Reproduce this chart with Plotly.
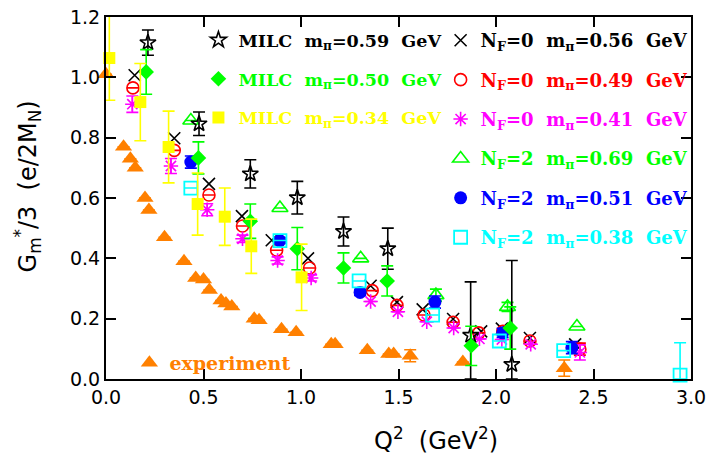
import plotly.graph_objects as go

# ---------------- data ----------------
exp_x = [0.00, 0.09, 0.125, 0.15, 0.20, 0.22, 0.30, 0.40, 0.46, 0.50, 0.53, 0.59, 0.615, 0.645,
         0.76, 0.785, 0.90, 0.975, 1.155, 1.175, 1.34, 1.45, 1.475, 1.56, 1.83, 2.35]
exp_y = [1.01, 0.77, 0.73, 0.70, 0.60, 0.56, 0.47, 0.39, 0.335, 0.33, 0.295, 0.26, 0.25, 0.24,
         0.20, 0.195, 0.165, 0.155, 0.115, 0.115, 0.095, 0.083, 0.083, 0.077, 0.056, 0.036]
exp_err = [0, 0, 0, 0, 0, 0, 0, 0, 0, 0, 0, 0, 0, 0,
           0, 0, 0, 0, 0, 0, 0, 0, 0, 0.02, 0, 0.027]

milc59_x = [0.215, 0.477, 0.740, 0.981, 1.218, 1.445, 1.870, 2.081]
milc59_y = [1.115, 0.846, 0.680, 0.601, 0.489, 0.432, 0.145, 0.048]
milc59_err = [0.042, 0.039, 0.047, 0.054, 0.048, 0.068, 0.177, 0.345]

milc50_x = [0.206, 0.474, 0.740, 0.981, 1.218, 1.442, 1.873, 2.073]
milc50_y = [1.018, 0.733, 0.523, 0.432, 0.368, 0.325, 0.110, 0.169]
milc50_err = [0.074, 0.053, 0.057, 0.070, 0.050, 0.050, 0.065, 0.070]

milc34_x = [0.017, 0.176, 0.321, 0.470, 0.609, 0.745, 1.003]
milc34_y = [1.064, 0.918, 0.769, 0.580, 0.538, 0.440, 0.337]
milc34_err = [0.140, 0.128, 0.119, 0.103, 0.095, 0.090, 0.110]

q56_x = [0.147, 0.350, 0.528, 0.697, 0.850, 1.036, 1.357, 1.492, 1.624, 1.780, 1.924, 2.030, 2.174, 2.406]
q56_y = [1.007, 0.798, 0.647, 0.540, 0.460, 0.400, 0.309, 0.255, 0.231, 0.199, 0.158, 0.167, 0.136, 0.115]

q49_x = [0.138, 0.350, 0.528, 0.700, 0.875, 1.044, 1.365, 1.492, 1.631, 1.780, 1.912, 2.035, 2.174, 2.430]
q49_y = [0.965, 0.758, 0.610, 0.507, 0.427, 0.368, 0.293, 0.244, 0.212, 0.188, 0.153, 0.158, 0.126, 0.099]
q49_err = [0, 0, 0, 0, 0, 0, 0, 0, 0, 0, 0, 0, 0, 0.02]

q41_x = [0.135, 0.333, 0.519, 0.700, 0.880, 1.052, 1.357, 1.497, 1.645, 1.783, 1.915, 2.030, 2.178, 2.430]
q41_y = [0.911, 0.706, 0.561, 0.465, 0.393, 0.335, 0.257, 0.223, 0.190, 0.169, 0.133, 0.131, 0.115, 0.088]
q41_err = [0.027, 0.025, 0.020, 0.012, 0.012, 0.010, 0, 0, 0, 0, 0, 0, 0, 0.025]

d69_x = [0.435, 0.892, 1.306, 1.692, 2.059, 2.415]
d69_y = [0.857, 0.567, 0.400, 0.278, 0.239, 0.174]
d69_err = [0.0, 0.0, 0.0, 0.02, 0.015, 0.0]

d51_x = [0.435, 0.891, 1.303, 1.687, 2.034, 2.389]
d51_y = [0.719, 0.459, 0.287, 0.255, 0.153, 0.104]
d51_err = [0.02, 0.01, 0.01, 0.02, 0.015, 0.02]

d38_x = [0.435, 0.892, 1.298, 1.675, 2.017, 2.347, 2.944]
d38_y = [0.633, 0.459, 0.325, 0.212, 0.126, 0.094, 0.013]
d38_err = [0, 0, 0, 0, 0, 0, 0.107]

x_ticks = [0.0, 0.5, 1.0, 1.5, 2.0, 2.5, 3.0]
y_ticks = [0.0, 0.2, 0.4, 0.6, 0.8, 1.0, 1.2]

ORANGE = "#FF8000"
GREEN = "#00FF00"


def leg_font(size):
    return dict(family="DejaVu Serif", size=size, weight="bold")


def err(vals, ys, color):
    minus = [min(e, v) for e, v in zip(vals, ys)]
    return dict(type="data", array=vals, arrayminus=minus, symmetric=False,
                color=color, thickness=1.6, width=6)


def lab(txt, color):
    return f"<span style='color:{color}'>{txt}</span>"


SP = "\u00a0\u00a0"
fig = go.Figure()


def add(x, y, e, name, color, symbol, size, lw, legend, rank):
    marker = dict(symbol=symbol, size=size, color=color,
                  line=dict(color=color, width=lw))
    fig.add_trace(go.Scatter(
        x=x, y=y, mode="markers", name=name, marker=marker,
        error_y=err(e, y, color) if e is not None else None,
        legend=legend, legendgroup=name, legendrank=rank, cliponaxis=False,
        showlegend=True))


# experiment
add(exp_x, exp_y, exp_err, lab("experiment", ORANGE), ORANGE, "triangle-up", 15, 0, "legend3", 1)
# N_F = 0
add(q56_x, q56_y, None, lab(f"N<sub>F</sub>=0{SP}m<sub>π</sub>=0.56{SP}GeV", "#000000"), "#000000", "x-thin-open", 12, 1.6, "legend2", 1)
add(q49_x, q49_y, q49_err, lab(f"N<sub>F</sub>=0{SP}m<sub>π</sub>=0.49{SP}GeV", "#FF0000"), "#FF0000", "circle-open", 12, 1.6, "legend2", 2)
add(q41_x, q41_y, q41_err, lab(f"N<sub>F</sub>=0{SP}m<sub>π</sub>=0.41{SP}GeV", "#FF00FF"), "#FF00FF", "asterisk-open", 12, 1.6, "legend2", 3)
# N_F = 2
add(d69_x, d69_y, d69_err, lab(f"N<sub>F</sub>=2{SP}m<sub>π</sub>=0.69{SP}GeV", GREEN), GREEN, "triangle-up-open", 14, 1.6, "legend2", 4)
add(d51_x, d51_y, d51_err, lab(f"N<sub>F</sub>=2{SP}m<sub>π</sub>=0.51{SP}GeV", "#0000FF"), "#0000FF", "circle", 13, 0, "legend2", 5)
add(d38_x, d38_y, d38_err, lab(f"N<sub>F</sub>=2{SP}m<sub>π</sub>=0.38{SP}GeV", "#00FFFF"), "#00FFFF", "square-open", 13, 1.8, "legend2", 6)
# MILC
add(milc59_x, milc59_y, milc59_err, lab(f"MILC{SP}m<sub>π</sub>=0.59{SP}GeV", "#000000"), "#000000", "star-open", 12, 1.6, "legend", 1)
add(milc50_x, milc50_y, milc50_err, lab(f"MILC{SP}m<sub>π</sub>=0.50{SP}GeV", GREEN), GREEN, "diamond", 12, 0, "legend", 2)
add(milc34_x, milc34_y, milc34_err, lab(f"MILC{SP}m<sub>π</sub>=0.34{SP}GeV", "#FFFF00"), "#FFFF00", "square", 12, 0, "legend", 3)

axis_common = dict(showline=True, linewidth=2, linecolor="black", mirror="ticks",
                   ticks="inside", ticklen=10, tickwidth=2, tickcolor="black",
                   showgrid=False, zeroline=False, ticklabeloverflow="allow",
                   tickfont=dict(family="DejaVu Sans", size=19, color="black"))

leg_common = dict(bgcolor="rgba(0,0,0,0)", borderwidth=0,
                  traceorder="grouped", xanchor="left", yanchor="top",
                  tracegroupgap=13, itemclick=False)

fig.update_layout(
    width=712, height=465,
    margin=dict(l=106, r=14, t=6, b=86),
    paper_bgcolor="white", plot_bgcolor="white",
    xaxis=dict(range=[0, 3], tickvals=x_ticks, tickformat=".1f", **axis_common),
    yaxis=dict(range=[0, 1.2], tickvals=y_ticks, tickformat=".1f", **axis_common),
    legend=dict(x=0.158, y=0.986, font=leg_font(17.5), **leg_common),
    legend2=dict(x=0.572, y=0.986, font=leg_font(18), **leg_common),
    legend3=dict(x=0.040, y=0.097, font=leg_font(19), **leg_common),
    annotations=[
        dict(text="Q<sup>2</sup>\u00a0\u00a0(GeV<sup>2</sup>)", xref="paper", yref="paper",
             x=0.564, y=-0.165, showarrow=False, xanchor="center", yanchor="middle",
             font=dict(family="DejaVu Sans", size=24, color="black")),
        dict(text="G<sub>m</sub><sup>*</sup>/3\u00a0\u00a0(e/2M<sub>N</sub>)", xref="paper", yref="paper",
             x=-0.134, y=0.531, showarrow=False, textangle=-90, xanchor="center", yanchor="middle",
             font=dict(family="DejaVu Sans", size=24, color="black")),
    ],
)

fig.write_html("out.html", config={"displayModeBar": False},
               post_script="document.body.style.margin='0';")
